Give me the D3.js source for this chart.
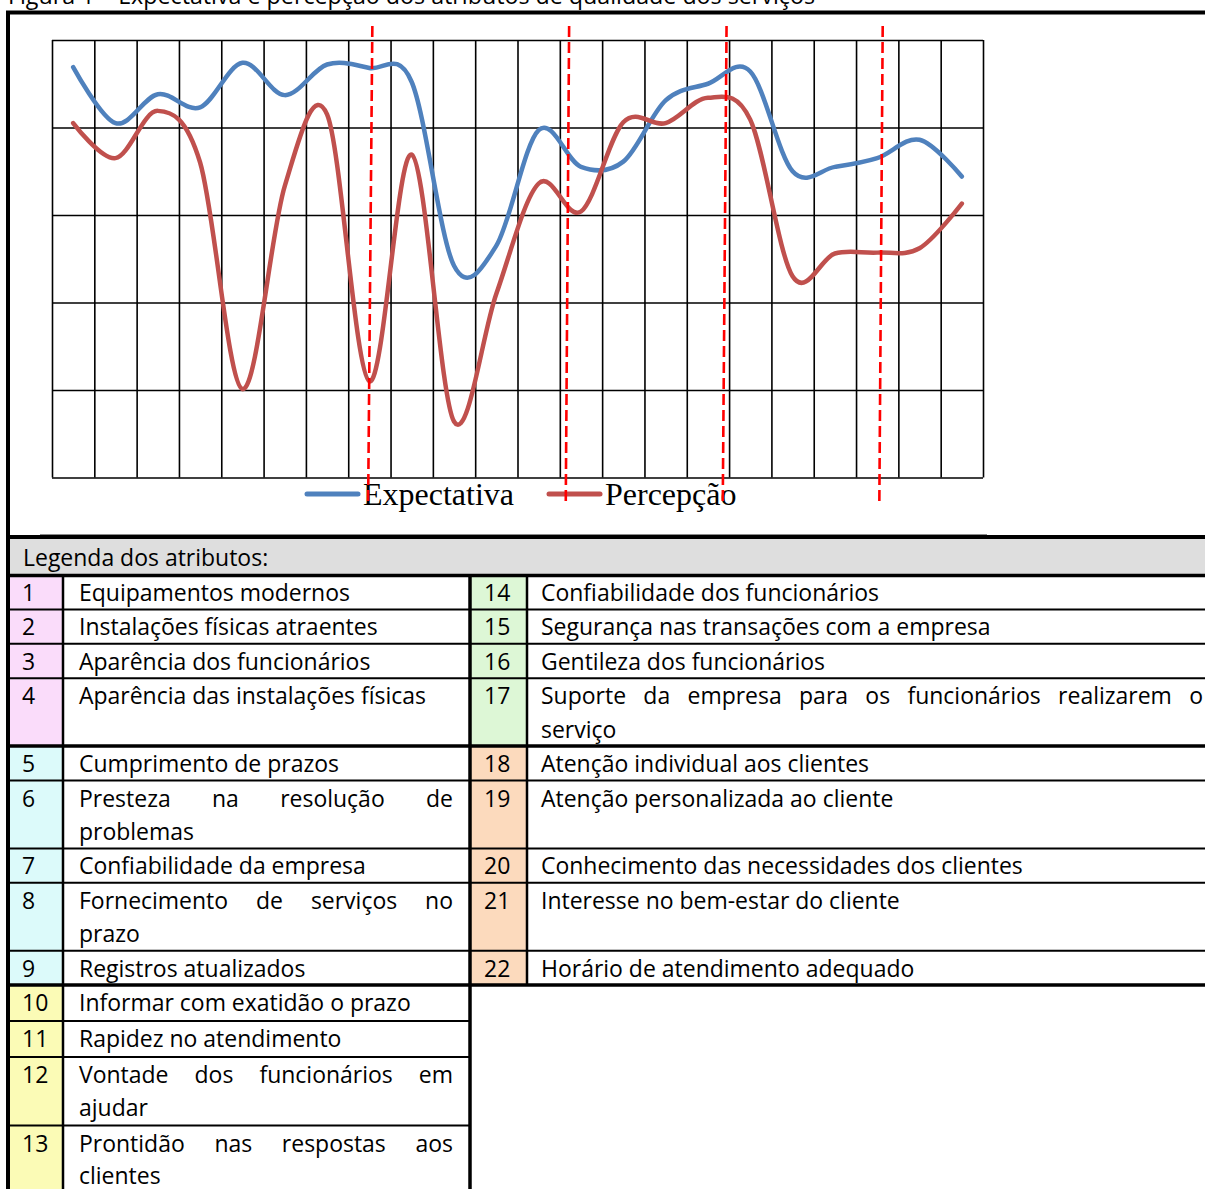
<!DOCTYPE html>
<html lang="pt">
<head>
<meta charset="utf-8">
<script src="https://cdn.jsdelivr.net/npm/d3@7"></script>
<style>
  html, body { margin: 0; padding: 0; background: #fff; overflow: hidden; }
  svg { display: block; }
</style>
</head>
<body>
<svg id="fig" width="1205" height="1189"></svg>
<script>
// ---- data -------------------------------------------------------------
const attributes = d3.range(1, 23);
const expectativa = [4.69, 4.05, 4.38, 4.23, 4.74, 4.37, 4.72, 4.68, 4.52, 2.42, 2.65,
                     3.97, 3.55, 3.61, 4.31, 4.50, 4.64, 3.50, 3.55, 3.65, 3.86, 3.44];
const percepcao   = [4.05, 3.65, 4.19, 3.60, 1.01, 3.33, 4.15, 1.10, 3.69, 0.64, 2.10,
                     3.36, 3.04, 4.06, 4.05, 4.34, 4.09, 2.30, 2.56, 2.57, 2.62, 3.13];
const yTicks = [0, 1, 2, 3, 4, 5];
const seriesNames = ["Expectativa", "Percepção"];
// hand-drawn group separators: [position at top, position at bottom] in attribute units
const dividers = [[8.07, 7.97], [12.72, 12.64], [16.44, 16.35], [20.13, 20.05]];
const dividerSpan = [5.16, -0.31];

const titleText = "Figura 1 – Expectativa e percepção dos atributos de qualidade dos serviços";
const legendHeading = "Legenda dos atributos:";
const groupFills = ["#fadcfa", "#dcfafa", "#fbfbb6", "#ddf7d6", "#fcdabd"];

const leftItems = [
  { n: 1,  g: 0, lines: ["Equipamentos modernos"] },
  { n: 2,  g: 0, lines: ["Instalações físicas atraentes"] },
  { n: 3,  g: 0, lines: ["Aparência dos funcionários"] },
  { n: 4,  g: 0, lines: ["Aparência das instalações físicas", ""] },
  { n: 5,  g: 1, lines: ["Cumprimento de prazos"] },
  { n: 6,  g: 1, lines: ["Presteza na resolução de", "problemas"] },
  { n: 7,  g: 1, lines: ["Confiabilidade da empresa"] },
  { n: 8,  g: 1, lines: ["Fornecimento de serviços no", "prazo"] },
  { n: 9,  g: 1, lines: ["Registros atualizados"] },
  { n: 10, g: 2, lines: ["Informar com exatidão o prazo"] },
  { n: 11, g: 2, lines: ["Rapidez no atendimento"] },
  { n: 12, g: 2, lines: ["Vontade dos funcionários em", "ajudar"] },
  { n: 13, g: 2, lines: ["Prontidão nas respostas aos", "clientes"] }
];
const rightItems = [
  { n: 14, g: 3, lines: ["Confiabilidade dos funcionários"] },
  { n: 15, g: 3, lines: ["Segurança nas transações com a empresa"] },
  { n: 16, g: 3, lines: ["Gentileza dos funcionários"] },
  { n: 17, g: 3, lines: ["Suporte da empresa para os funcionários realizarem o", "serviço"] },
  { n: 18, g: 4, lines: ["Atenção individual aos clientes"] },
  { n: 19, g: 4, lines: ["Atenção personalizada ao cliente"] },
  { n: 20, g: 4, lines: ["Conhecimento das necessidades dos clientes"] },
  { n: 21, g: 4, lines: ["Interesse no bem-estar do cliente"] },
  { n: 22, g: 4, lines: ["Horário de atendimento adequado"] }
];

// ---- setup ------------------------------------------------------------
const svg = d3.select("#fig");
const W = 1205, H = 1189;
const SANS = "'Open Sans', 'Noto Sans', sans-serif";
const SERIF = "'Liberation Serif', 'DejaVu Serif', serif";
const BLUE = "#4f81bd", RED = "#c0504d";

function measure(txt, size, family) {
  const t = svg.append("text").attr("font-family", family).attr("font-size", size).text(txt);
  const w = t.node().getComputedTextLength();
  t.remove();
  return w;
}
const bodySize = 100 * 271 / measure("Equipamentos modernos", 100, SANS);

// ---- caption (partly above the page edge) ----------------------------
svg.append("text")
  .attr("x", 8).attr("y", 4)
  .attr("font-family", SANS).attr("font-size", bodySize)
  .attr("textLength", 807).attr("lengthAdjust", "spacingAndGlyphs")
  .text(titleText);

// ---- chart ------------------------------------------------------------
const plot = { left: 52, right: 983, top: 40, bottom: 477.5 };
const x = d3.scaleLinear().domain([0.5, 22.5]).range([plot.left, plot.right]);
const y = d3.scaleLinear().domain([0, 5]).range([plot.bottom, plot.top]);

const chart = svg.append("g");

// grid drawn by axes with full-length ticks
const columnEdges = d3.range(0.5, 23, 1);
chart.append("g")
  .attr("transform", `translate(0,${plot.bottom})`)
  .call(d3.axisBottom(x).tickValues(columnEdges).tickSize(-(plot.bottom - plot.top)).tickFormat(""))
  .call(g => g.select(".domain").remove())
  .call(g => g.selectAll(".tick line").attr("stroke", "#000").attr("stroke-width", 1.6));
chart.append("g")
  .attr("transform", `translate(${plot.left},0)`)
  .call(d3.axisLeft(y).tickValues(yTicks).tickSize(-(plot.right - plot.left)).tickFormat(""))
  .call(g => g.select(".domain").remove())
  .call(g => g.selectAll(".tick line").attr("stroke", "#000").attr("stroke-width", 1.6));

const line = d3.line()
  .x((d, i) => x(attributes[i]))
  .y(d => y(d))
  .curve(d3.curveCatmullRom.alpha(0));

chart.append("path").datum(expectativa)
  .attr("d", line).attr("fill", "none").attr("stroke", BLUE)
  .attr("stroke-width", 4.5).attr("stroke-linecap", "round").attr("stroke-linejoin", "round");
chart.append("path").datum(percepcao)
  .attr("d", line).attr("fill", "none").attr("stroke", RED)
  .attr("stroke-width", 4.5).attr("stroke-linecap", "round").attr("stroke-linejoin", "round");

// legend
const legend = chart.append("g");
const legendItems = [
  { name: seriesNames[0], color: BLUE, x0: 307, x1: 358, tx: 363 },
  { name: seriesNames[1], color: RED,  x0: 549, x1: 600, tx: 605 }
];
legendItems.forEach(it => {
  legend.append("line").attr("x1", it.x0).attr("x2", it.x1).attr("y1", 494).attr("y2", 494)
    .attr("stroke", it.color).attr("stroke-width", 5).attr("stroke-linecap", "round");
  legend.append("text").attr("x", it.tx).attr("y", 505)
    .attr("font-family", SERIF).attr("font-size", 32).attr("fill", "#000").text(it.name);
});

// dashed separators between attribute groups
chart.selectAll("line.divider").data(dividers).join("line")
  .attr("class", "divider")
  .attr("x1", d => x(d[0])).attr("y1", y(dividerSpan[0]))
  .attr("x2", d => x(d[1])).attr("y2", y(dividerSpan[1]))
  .attr("stroke", "#ff0000").attr("stroke-width", 2.6).attr("stroke-dasharray", "11,5");

// ---- frame ------------------------------------------------------------
svg.append("line").attr("x1", 6).attr("x2", W).attr("y1", 12.5).attr("y2", 12.5)
  .attr("stroke", "#000").attr("stroke-width", 4);
svg.append("line").attr("x1", 40).attr("x2", 987).attr("y1", 534.5).attr("y2", 534.5)
  .attr("stroke", "#8a8a8a").attr("stroke-width", 1);

// ---- attribute legend table ------------------------------------------
const table = svg.append("g");
table.append("rect").attr("x", 8).attr("y", 538).attr("width", W - 8).attr("height", 37)
  .attr("fill", "#dedede");
table.append("text").attr("x", 23).attr("y", 566)
  .attr("font-family", SANS).attr("font-size", bodySize).text(legendHeading);

const cols = {
  left:  { numX0: 8,   numX1: 63,  numTx: 22,  tx0: 79,  tx1: 453 },
  right: { numX0: 470, numX1: 527, numTx: 484, tx0: 541, tx1: 1203 }
};
const rows = [];
let rowTop = 575;
leftItems.forEach((L, k) => {
  const R = rightItems[k] || null;
  const nl = Math.max(L.lines.length, R ? R.lines.length : 1);
  const base = k < 9 ? 34.4 : 36;
  const lineH = k < 9 ? 33.5 : 32.5;
  const h = base + (nl - 1) * lineH;
  rows.push({ L, R, top: rowTop, h, lineH });
  rowTop += h;
});

function drawCell(item, col, row) {
  const top = row.top;
  table.append("rect").attr("x", col.numX0).attr("y", top)
    .attr("width", col.numX1 - col.numX0).attr("height", row.h)
    .attr("fill", groupFills[item.g]);
  table.append("text").attr("x", col.numTx).attr("y", top + 26)
    .attr("font-family", SANS).attr("font-size", bodySize).text(item.n);
  const nonEmpty = item.lines.filter(s => s.length);
  nonEmpty.forEach((ln, i) => {
    const by = top + 26 + i * row.lineH;
    const justify = i < nonEmpty.length - 1;
    if (!justify) {
      table.append("text").attr("x", col.tx0).attr("y", by)
        .attr("font-family", SANS).attr("font-size", bodySize).text(ln);
    } else {
      const words = ln.split(" ");
      const widths = words.map(w => measure(w, bodySize, SANS));
      const gap = (col.tx1 - col.tx0 - d3.sum(widths)) / (words.length - 1);
      let cx = col.tx0;
      words.forEach((w, j) => {
        table.append("text").attr("x", cx).attr("y", by)
          .attr("font-family", SANS).attr("font-size", bodySize).text(w);
        cx += widths[j] + gap;
      });
    }
  });
}

rows.forEach(r => {
  drawCell(r.L, cols.left, r);
  if (r.R) drawCell(r.R, cols.right, r);
});

// row rules
rows.forEach((r, k) => {
  const yb = r.top + r.h;
  const next = rows[k + 1];
  const groupEnd = !next || next.L.g !== r.L.g;
  const sw = groupEnd ? 3.5 : 2;
  table.append("line").attr("x1", 8).attr("x2", 470).attr("y1", yb).attr("y2", yb)
    .attr("stroke", "#000").attr("stroke-width", sw);
  if (r.R) {
    table.append("line").attr("x1", 470).attr("x2", W).attr("y1", yb).attr("y2", yb)
      .attr("stroke", "#000").attr("stroke-width", sw);
  }
});
// header rules
table.append("line").attr("x1", 8).attr("x2", W).attr("y1", 537).attr("y2", 537)
  .attr("stroke", "#000").attr("stroke-width", 4);
table.append("line").attr("x1", 8).attr("x2", W).attr("y1", 575.5).attr("y2", 575.5)
  .attr("stroke", "#000").attr("stroke-width", 3.5);

// column rules
const lastRight = rows[rightItems.length - 1];
const rightEnd = lastRight.top + lastRight.h;
table.append("line").attr("x1", 63).attr("x2", 63).attr("y1", 575).attr("y2", H)
  .attr("stroke", "#000").attr("stroke-width", 2.5);
table.append("line").attr("x1", 470).attr("x2", 470).attr("y1", 575).attr("y2", H)
  .attr("stroke", "#000").attr("stroke-width", 3.5);
table.append("line").attr("x1", 527).attr("x2", 527).attr("y1", 575).attr("y2", rightEnd)
  .attr("stroke", "#000").attr("stroke-width", 2.5);

// outer left edge
svg.append("line").attr("x1", 8).attr("x2", 8).attr("y1", 11).attr("y2", H)
  .attr("stroke", "#000").attr("stroke-width", 4);
</script>
</body>
</html>
